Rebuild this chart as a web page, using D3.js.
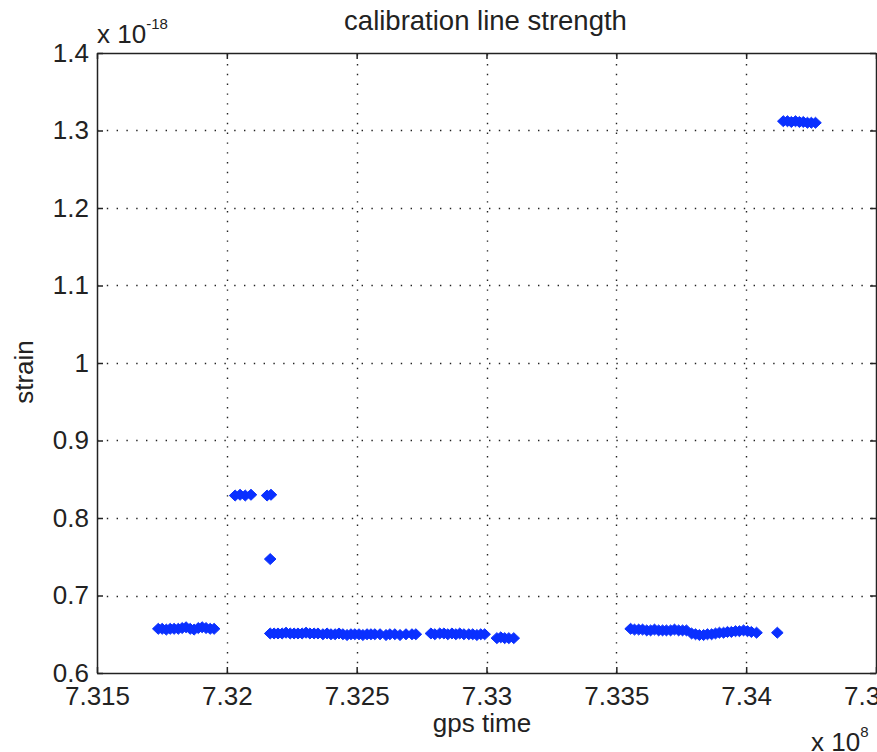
<!DOCTYPE html>
<html>
<head>
<meta charset="utf-8">
<script src="https://cdn.jsdelivr.net/npm/d3@7"></script>
<style>
  html, body { margin: 0; padding: 0; background: #fff; overflow: hidden; }
  svg { display: block; font-family: "Liberation Sans", Arial, sans-serif; }
</style>
</head>
<body>
<script>
// x values in units of 1e8 s, y values in units of 1e-18
const gpsTime = [
  7.31736, 7.31751, 7.31767, 7.31782, 7.31797, 7.31813, 7.31828, 7.31843, 7.31859, 7.31874, 7.31890, 7.31905, 7.31920, 7.31936, 7.31951,
  7.32032, 7.32051, 7.32071, 7.32093, 7.32155, 7.32170,
  7.32167,
  7.32167, 7.32182, 7.32197, 7.32213, 7.32228, 7.32244, 7.32259, 7.32274, 7.32290, 7.32305, 7.32320, 7.32336, 7.32351,
  7.32370, 7.32386, 7.32401, 7.32417, 7.32432, 7.32447, 7.32463, 7.32478, 7.32493, 7.32509, 7.32524, 7.32540, 7.32555, 7.32570,
  7.32590, 7.32613, 7.32628, 7.32647, 7.32667, 7.32690, 7.32713, 7.32728,
  7.32786, 7.32801, 7.32820, 7.32836, 7.32851, 7.32867, 7.32882, 7.32897, 7.32913,
  7.32932, 7.32947, 7.32963, 7.32978, 7.32993,
  7.33040, 7.33055, 7.33070, 7.33086, 7.33105,
  7.33555, 7.33570, 7.33586, 7.33601, 7.33617, 7.33632, 7.33647, 7.33663, 7.33678, 7.33693, 7.33709, 7.33724, 7.33740, 7.33755, 7.33770,
  7.33790, 7.33805, 7.33820, 7.33836, 7.33851, 7.33867, 7.33882,
  7.33897, 7.33913, 7.33928, 7.33943, 7.33959, 7.33974, 7.33990, 7.34005, 7.34020, 7.34040,
  7.34120,
  7.34143, 7.34159, 7.34174, 7.34190, 7.34205, 7.34220, 7.34236, 7.34251, 7.34267
];
const strain = [
  0.657, 0.657, 0.656, 0.657, 0.657, 0.657, 0.658, 0.659, 0.657, 0.656, 0.658, 0.659, 0.658, 0.657, 0.657,
  0.829, 0.830, 0.829, 0.830, 0.829, 0.830,
  0.747,
  0.651, 0.651, 0.651, 0.651, 0.652, 0.651, 0.651, 0.651, 0.651, 0.652, 0.651, 0.651, 0.651,
  0.650, 0.651, 0.650, 0.650, 0.651, 0.650, 0.649, 0.650, 0.650, 0.650, 0.649, 0.650, 0.650, 0.650,
  0.650, 0.649, 0.650, 0.650, 0.649, 0.650, 0.650, 0.650,
  0.651, 0.650, 0.651, 0.651, 0.650, 0.651, 0.650, 0.651, 0.650,
  0.650, 0.650, 0.649, 0.650, 0.650,
  0.645, 0.646, 0.645, 0.645, 0.645,
  0.657, 0.656, 0.656, 0.656, 0.655, 0.655, 0.656, 0.655, 0.655, 0.655, 0.655, 0.656, 0.655, 0.655, 0.655,
  0.651, 0.650, 0.649, 0.649, 0.650, 0.650, 0.651,
  0.652, 0.652, 0.653, 0.653, 0.654, 0.654, 0.655, 0.654, 0.653, 0.652,
  0.652,
  1.312, 1.312, 1.311, 1.312, 1.311, 1.311, 1.310, 1.310, 1.310
];
const xTicks = [7.315, 7.32, 7.325, 7.33, 7.335, 7.34, 7.345];
const xTickLabels = ["7.315", "7.32", "7.325", "7.33", "7.335", "7.34", "7.345"];
const yTicks = [0.6, 0.7, 0.8, 0.9, 1.0, 1.1, 1.2, 1.3, 1.4];
const yTickLabels = ["0.6", "0.7", "0.8", "0.9", "1", "1.1", "1.2", "1.3", "1.4"];
const titleText = "calibration line strength";
const xLabelText = "gps time";
const yLabelText = "strain";

const W = 877, H = 752;
const pL = 97, pT = 53, pR = 876, pB = 673;
const svg = d3.select("body").append("svg").attr("width", W).attr("height", H);

const x = d3.scaleLinear().domain([7.315, 7.345]).range([pL, pR]);
const y = d3.scaleLinear().domain([0.6, 1.4]).range([pB, pT]);

// grid
const grid = svg.append("g").attr("stroke", "#222").attr("stroke-width", 1.4)
  .attr("stroke-dasharray", "1.4,8.4").attr("fill", "none");
xTicks.slice(1, -1).forEach(t => {
  grid.append("line").attr("x1", Math.round(x(t)) + 0.5).attr("x2", Math.round(x(t)) + 0.5)
    .attr("y1", pB).attr("y2", pT);
});
yTicks.slice(1, -1).forEach(t => {
  grid.append("line").attr("y1", Math.round(y(t)) + 0.5).attr("y2", Math.round(y(t)) + 0.5)
    .attr("x1", pL).attr("x2", pR);
});

// points
const diamond = "M0,-5.5L5.8,0L0,5.5L-5.8,0Z";
svg.append("g").selectAll("path").data(gpsTime.map((g, i) => [g, strain[i]]))
  .join("path")
  .attr("d", diamond)
  .attr("transform", d => `translate(${x(d[0])},${y(d[1])})`)
  .attr("fill", "#0a30ff")
  .attr("stroke", "#0a30ff")
  .attr("stroke-width", 1);

// axes (ticks inward)
const fs = 26;
const axB = d3.axisBottom(x).tickValues(xTicks).tickFormat((d, i) => xTickLabels[i]).tickSizeInner(-6).tickSizeOuter(0).tickPadding(14);
const axT = d3.axisTop(x).tickValues(xTicks).tickFormat("").tickSizeInner(-6).tickSizeOuter(0);
const axL = d3.axisLeft(y).tickValues(yTicks).tickFormat((d, i) => yTickLabels[i]).tickSizeInner(-6).tickSizeOuter(0).tickPadding(8);
const axR = d3.axisRight(y).tickValues(yTicks).tickFormat("").tickSizeInner(-6).tickSizeOuter(0);

function style(g) {
  g.selectAll("path.domain").attr("stroke", "#222").attr("stroke-width", 1.5);
  g.selectAll(".tick line").attr("stroke", "#222").attr("stroke-width", 1.5);
  g.selectAll("text").attr("fill", "#222").attr("font-size", fs).attr("font-family", "Liberation Sans, Arial, sans-serif");
}
svg.append("g").attr("transform", `translate(0,${pB})`).call(axB).call(style);
svg.append("g").attr("transform", `translate(0,${pT})`).call(axT).call(style);
svg.append("g").attr("transform", `translate(${pL},0)`).call(axL).call(style);
svg.append("g").attr("transform", `translate(${pR},0)`).call(axR).call(style);

// title & labels
svg.append("text").attr("x", (pL + pR) / 2 - 1).attr("y", 30).attr("text-anchor", "middle")
  .attr("font-size", 27.5).attr("fill", "#222").text(titleText);
svg.append("text").attr("x", 482).attr("y", 732).attr("text-anchor", "middle")
  .attr("font-size", fs).attr("fill", "#222").text(xLabelText);
svg.append("text").attr("transform", "translate(33,372) rotate(-90)").attr("text-anchor", "middle")
  .attr("font-size", fs).attr("fill", "#222").text(yLabelText);

// exponent labels
const e1 = svg.append("text").attr("x", 97).attr("y", 43).attr("font-size", fs).attr("fill", "#222");
e1.append("tspan").text("x 10");
e1.append("tspan").attr("font-size", 15).attr("dy", -14).text("-18");
const e2 = svg.append("text").attr("x", 811).attr("y", 751).attr("font-size", fs).attr("fill", "#222");
e2.append("tspan").text("x 10");
e2.append("tspan").attr("font-size", 15).attr("dy", -14).text("8");
</script>
</body>
</html>
